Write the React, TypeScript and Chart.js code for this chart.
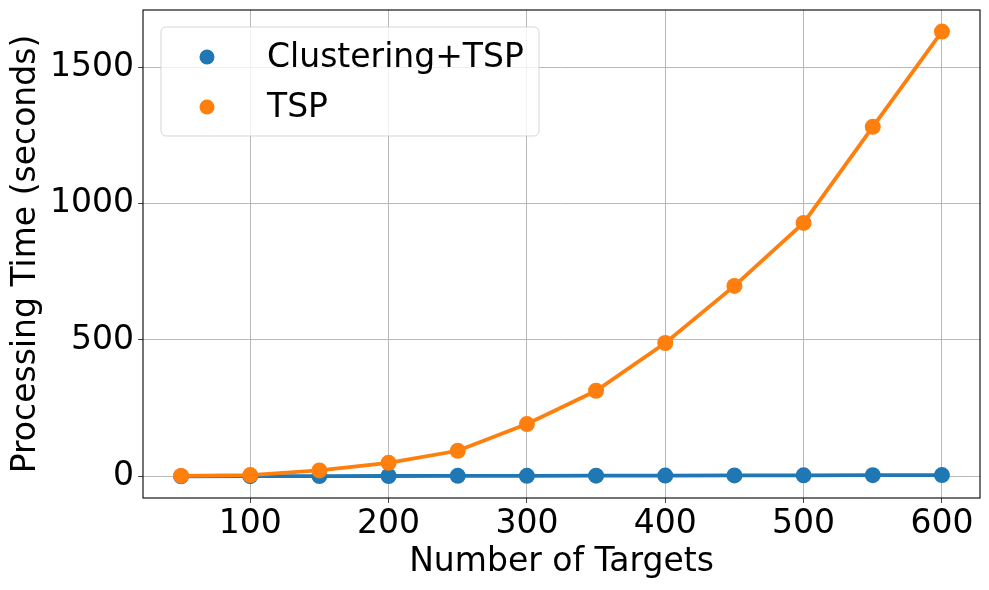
import React, { useEffect, useRef } from "react";
import { Chart, registerables } from "chart.js";

Chart.register(...registerables);

const targets = [50, 100, 150, 200, 250, 300, 350, 400, 450, 500, 550, 600];
const clusteringTsp = [0.5, 0.9, 1.3, 1.6, 2.1, 2.4, 2.9, 3.2, 3.8, 4.1, 4.6, 5.0];
const tsp = [2, 5, 22, 50, 94, 192, 314, 489, 698, 929, 1281, 1630];
const xTickValues = [100, 200, 300, 400, 500, 600];
const yTickValues = [0, 500, 1000, 1500];
const seriesNames = ["Clustering+TSP", "TSP"];
const seriesColors = ["#1f77b4", "#ff7f0e"];

const FONT = "'DejaVu Sans', sans-serif";
const FS = 33;

const framePlugin = {
  id: "frameAndLegend",
  afterDraw(chart: any) {
    const { ctx, chartArea } = chart;
    const { left, right, top, bottom } = chartArea;
    ctx.save();
    ctx.strokeStyle = "#000";
    ctx.lineWidth = 1.1;
    ctx.strokeRect(left, top, right - left, bottom - top);

    // legend
    const lx = left + 18, ly = top + 17, lw = 378, lh = 109, r = 5;
    ctx.beginPath();
    ctx.moveTo(lx + r, ly);
    ctx.arcTo(lx + lw, ly, lx + lw, ly + lh, r);
    ctx.arcTo(lx + lw, ly + lh, lx, ly + lh, r);
    ctx.arcTo(lx, ly + lh, lx, ly, r);
    ctx.arcTo(lx, ly, lx + lw, ly, r);
    ctx.closePath();
    ctx.fillStyle = "rgba(255,255,255,0.8)";
    ctx.fill();
    ctx.strokeStyle = "rgba(204,204,204,0.8)";
    ctx.lineWidth = 1;
    ctx.stroke();

    ctx.font = `${FS}px ${FONT}`;
    ctx.textBaseline = "middle";
    ctx.textAlign = "left";
    seriesNames.forEach((name, i) => {
      const cy = ly + 30 + i * 50;
      ctx.beginPath();
      ctx.arc(lx + 46, cy, 7.5, 0, Math.PI * 2);
      ctx.fillStyle = seriesColors[i];
      ctx.fill();
      ctx.fillStyle = "#000";
      ctx.fillText(name, lx + 106, cy + 1);
    });
    ctx.restore();
  },
};

export default function App() {
  const ref = useRef<HTMLCanvasElement>(null);
  useEffect(() => {
    document.body.style.margin = "0";
    const chart = new Chart(ref.current!, {
      type: "line",
      data: {
        datasets: [
          {
            label: seriesNames[0],
            data: targets.map((x, i) => ({ x, y: clusteringTsp[i] })),
            borderColor: seriesColors[0],
            backgroundColor: seriesColors[0],
            borderWidth: 3.8,
            pointRadius: 8,
            pointBorderWidth: 0,
            order: 2,
          },
          {
            label: seriesNames[1],
            data: targets.map((x, i) => ({ x, y: tsp[i] })),
            borderColor: seriesColors[1],
            backgroundColor: seriesColors[1],
            borderWidth: 3.8,
            pointRadius: 8,
            pointBorderWidth: 0,
            order: 1,
          },
        ],
      },
      options: {
        animation: false,
        responsive: false,
        layout: { padding: { top: 10, right: 9, left: 0, bottom: 0 } },
        plugins: { legend: { display: false }, tooltip: { enabled: false } },
        scales: {
          x: {
            type: "linear",
            min: 22.5,
            max: 627.5,
            afterBuildTicks: (s: any) => {
              s.ticks = xTickValues.map((v) => ({ value: v }));
            },
            afterFit: (s: any) => {
              s.height = 92;
              s.paddingLeft = 0;
              s.paddingRight = 0;
            },
            grid: { color: "#b0b0b0", lineWidth: 0.9, tickLength: 5, tickColor: "#333", drawOnChartArea: true },
            border: { display: false },
            ticks: {
              color: "#000",
              font: { family: FONT, size: FS },
              padding: 2,
              maxRotation: 0,
              callback: (v: any) => String(v),
            },
            title: {
              display: true,
              text: "Number of Targets",
              color: "#000",
              font: { family: FONT, size: FS },
              padding: { top: 0, bottom: 8 },
            },
          },
          y: {
            type: "linear",
            min: -79,
            max: 1709,
            afterBuildTicks: (s: any) => {
              s.ticks = yTickValues.map((v) => ({ value: v }));
            },
            afterFit: (s: any) => {
              s.width = 143;
              s.paddingTop = 0;
              s.paddingBottom = 0;
            },
            grid: { color: "#b0b0b0", lineWidth: 0.9, tickLength: 5, tickColor: "#333" },
            border: { display: false },
            ticks: {
              color: "#000",
              font: { family: FONT, size: FS },
              padding: 4,
              callback: (v: any) => String(v),
            },
            title: {
              display: true,
              text: "Processing Time (seconds)",
              color: "#000",
              font: { family: FONT, size: FS },
              padding: { top: 7, bottom: 0 },
            },
          },
        },
      },
      plugins: [framePlugin],
    } as any);
    return () => chart.destroy();
  }, []);
  return (
    <div style={{ width: 989, height: 590, background: "#fff" }}>
      <canvas ref={ref} width={989} height={590} style={{ display: "block" }} />
    </div>
  );
}
